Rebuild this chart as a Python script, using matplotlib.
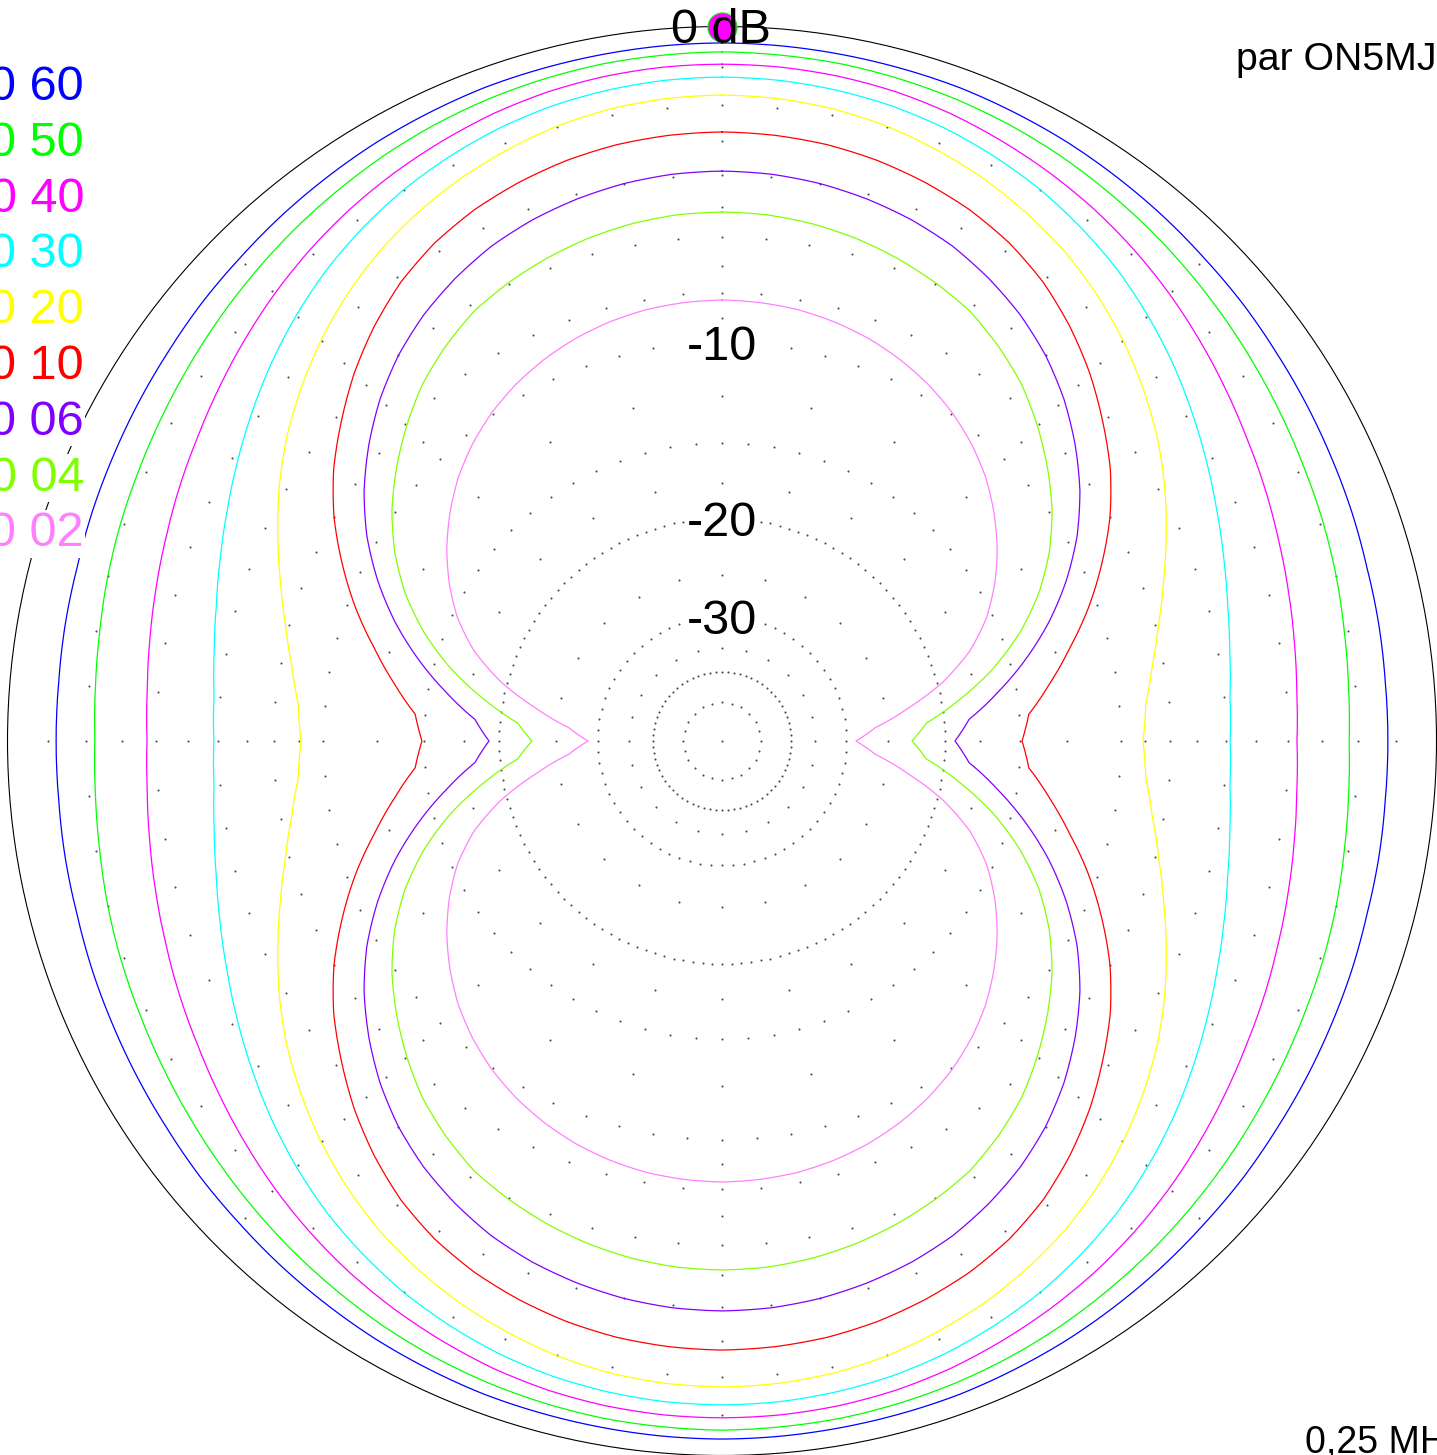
import numpy as np
import matplotlib
matplotlib.use("Agg")
import matplotlib.pyplot as plt

plt.rcParams['font.family'] = ['Liberation Sans', 'DejaVu Sans']

# ---------------- data (one quadrant, pattern is symmetric) ----------------
azimuth_deg = [0, 5, 10, 15, 20, 25, 30, 35, 40, 45, 50, 55, 60, 65, 70, 75, 80, 85, 90]

series_labels = ['060', '050', '040', '030', '020', '010', '006', '004', '002']

gain_060 = [-0.40, -0.41, -0.43, -0.45, -0.47, -0.52, -0.57, -0.64, -0.71, -0.79,
            -0.85, -0.93, -0.99, -1.05, -1.10, -1.16, -1.18, -1.21, -1.21]
gain_050 = [-0.62, -0.64, -0.66, -0.71, -0.77, -0.85, -0.95, -1.07, -1.19, -1.32,
            -1.45, -1.58, -1.70, -1.81, -1.90, -2.00, -2.11, -2.19, -2.24]
gain_040 = [-0.93, -0.94, -0.98, -1.05, -1.16, -1.31, -1.47, -1.65, -1.86, -2.09,
            -2.34, -2.59, -2.83, -3.03, -3.23, -3.40, -3.55, -3.67, -3.73]
gain_030 = [-1.26, -1.28, -1.34, -1.43, -1.57, -1.76, -1.98, -2.26, -2.57, -2.94,
            -3.34, -3.77, -4.20, -4.62, -5.00, -5.34, -5.60, -5.79, -5.85]
gain_020 = [-1.73, -1.76, -1.84, -1.98, -2.19, -2.43, -2.73, -3.07, -3.49, -3.97,
            -4.51, -5.09, -5.75, -6.47, -7.19, -7.86, -8.44, -8.90, -9.08]
gain_010 = [-2.74, -2.77, -2.84, -2.97, -3.16, -3.40, -3.73, -4.18, -4.77, -5.45,
            -6.23, -7.04, -8.01, -9.16, -10.39, -11.76, -13.10, -14.44, -14.89]
gain_006 = [-3.88, -3.91, -4.00, -4.15, -4.35, -4.62, -5.00, -5.45, -6.01, -6.70,
            -7.52, -8.44, -9.53, -10.84, -12.35, -14.11, -16.08, -18.16, -19.23]
gain_004 = [-5.16, -5.19, -5.29, -5.45, -5.67, -5.94, -6.26, -6.76, -7.34, -8.09,
            -8.92, -9.83, -10.93, -12.27, -13.95, -16.02, -18.58, -21.43, -22.73]
gain_002 = [-8.28, -8.32, -8.40, -8.56, -8.78, -9.08, -9.45, -9.91, -10.48, -11.16,
            -12.00, -12.95, -14.06, -15.36, -17.09, -19.53, -22.82, -26.34, -28.73]

series_gains = [gain_060, gain_050, gain_040, gain_030, gain_020,
                gain_010, gain_006, gain_004, gain_002]
series_colors = ['#0000ff', '#00ff00', '#ff00ff', '#00ffff', '#ffff00',
                 '#ff0000', '#8000ff', '#80ff00', '#ff80ff']

# dotted grid: level (dB) and angular step of its dots (deg)
grid_levels = [-1, -2, -3, -4, -5, -6, -7, -8, -9, -10,
               -12.5, -15, -17.5, -20, -25, -30, -35, -40, -50]
grid_steps = [45, 5, 45, 5, 45, 5, 45, 5, 45, 5,
              15, 5, 15, 2.5, 15, 5, 15, 5, 15]
scale_labels = ['-10', '-20', '-30']
scale_levels = [-10, -20, -30]

peak_azimuth = [0]
peak_gain = [0]

freq_text = '0,25 MHz'
author_text = 'par ON5MJ'

# ---------------- helpers ----------------
def full_circle_angles(q):
    q = np.asarray(q, dtype=float)
    half = np.concatenate([q, 180 - q[-2::-1]])
    return np.concatenate([half, 360 - half[-2::-1]])

def full_circle_values(v):
    v = np.asarray(v, dtype=float)
    half = np.concatenate([v, v[-2::-1]])
    return np.concatenate([half, half[-2::-1]])

# ARRL log-periodic radial scale: each 2 dB = 0.89 of radius
def fwd(db):
    db = np.asarray(db, dtype=float)
    return np.power(0.89, -db / 2.0)

def inv(r):
    r = np.clip(np.asarray(r, dtype=float), 1e-300, None)
    return -2.0 * np.log(r) / np.log(0.89)

# ---------------- figure ----------------
W, H = 1437, 1455
fig = plt.figure(figsize=(W / 100, H / 100), dpi=100)
fig.patch.set_facecolor('white')
cx, cy, R = 722.0, 714.0, 714.5  # centre (px from left, px from bottom), radius px
ax = fig.add_axes([(cx - R) / W, (cy - R) / H, 2 * R / W, 2 * R / H],
                  projection='polar')
ax.set_theta_zero_location('N')
ax.set_theta_direction(-1)
ax.set_rscale('function', functions=(fwd, inv))

RMIN = -300
theta_full = np.radians(full_circle_angles(azimuth_deg))

# grid dots
for lev, step in zip(grid_levels, grid_steps):
    th = np.arange(0, 360, step)
    ax.plot(np.radians(th), np.full(th.shape, lev, dtype=float), ls='none',
            marker='o', ms=1.5, mew=0, color='#4a4a4a', zorder=1)
ax.plot([0], [RMIN], ls='none', marker='o', ms=1.5, mew=0, color='#4a4a4a', zorder=1)

# patterns (drawn as smooth curves in polar space between the read points)
for g, c in zip(series_gains, series_colors):
    ln, = ax.plot(theta_full, full_circle_values(g), color=c, lw=0.9, zorder=3)
    ln.get_path()._interpolation_steps = 12

# peak marker
ax.plot(np.radians(peak_azimuth), peak_gain, ls='none', marker='o', ms=21,
        mfc='#ff00ff', mec='#00ff00', mew=0.8, clip_on=False, zorder=8)

ax.set_rlim(RMIN, 0)
ax.set_xticks([])
ax.set_yticks([])
ax.grid(False)
ax.spines['polar'].set_color('black')
ax.spines['polar'].set_linewidth(0.8)

# ---------------- texts ----------------
def fx(px):
    return px / W

def fy(py):
    return 1 - py / H

box = dict(facecolor='white', edgecolor='none', pad=1.0)

fig.text(fx(721), fy(43), '0 dB', fontsize=35, ha='center', va='baseline', zorder=7)
for lab, lev in zip(scale_labels, scale_levels):
    r_px = R * fwd(lev)
    fig.text(fx(722), fy(741 - r_px + 17.5), lab, fontsize=35, ha='center',
             va='baseline', bbox=box, zorder=7)

for i, (lab, col) in enumerate(zip(series_labels, series_colors)):
    fig.text(fx(84), fy(100 + 55.8 * i), lab[0] + ' ' + lab[1:], fontsize=35,
             color=col, ha='right', va='baseline', bbox=box, zorder=7)

fig.text(fx(1236), fy(70), author_text, fontsize=28.3, ha='left', va='baseline', zorder=7)
fig.text(fx(1305), fy(1453), freq_text, fontsize=27, ha='left', va='baseline', zorder=7)

fig.savefig('out.png', dpi=100, facecolor='white')
